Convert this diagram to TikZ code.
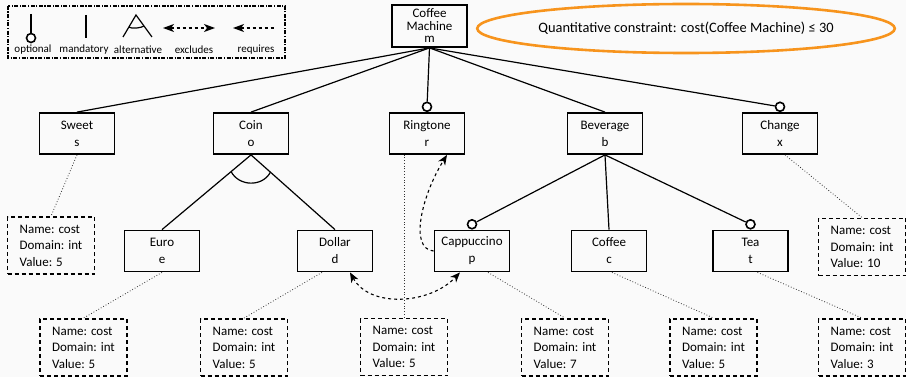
\documentclass[tikz,border=0pt]{standalone}
\usepackage{fontspec}
\setmainfont{Carlito}
\usetikzlibrary{arrows.meta, shapes.geometric, calc}
\definecolor{bgpaper}{RGB}{250,250,250}
\definecolor{cstorange}{RGB}{247,148,29}
\tikzset{
  feature/.style={draw, line width=1.8pt, minimum width=75pt, minimum height=41pt,
    align=center, inner sep=2pt, font=\fontsize{13}{17}\selectfont},
  attrbox/.style={draw, line width=1.8pt, dash pattern=on 4pt off 3pt,
    minimum width=87pt, minimum height=57pt, align=left,
    font=\fontsize{13}{16.5}\selectfont},
  optcirc/.style={draw, circle, line width=1.6pt, fill=white, minimum size=9pt, inner sep=0pt},
  edge/.style={line width=1.2pt},
  attrlink/.style={dotted, line width=0.8pt, black!80},
  reqtip/.tip={Stealth[length=10pt,width=8pt,inset=3pt]},
  legtip/.tip={Stealth[length=11pt,width=8pt,inset=3pt]},
  requires/.style={dashed, line width=1.1pt, -reqtip},
  excludes/.style={dashed, line width=1.1pt, reqtip-reqtip},
  legtext/.style={font=\fontsize{11}{12}\selectfont, inner sep=0pt},
}
\begin{document}
\begin{tikzpicture}[x=1pt, y=-1pt]
    \fill[bgpaper] (0,0) rectangle (906,377);
    \useasboundingbox (0,0) rectangle (906,377);

    % legend
    \draw[line width=1.5pt, dash pattern=on 4pt off 1.5pt on 1.2pt off 1.5pt] (8,6) rectangle (285,58);
    \coordinate (optTop) at (31,14);
    \node[optcirc] (optSym) at (31,38) {};
    \draw[edge] (optTop) -- (optSym);
    \coordinate (manTop) at (86,15);
    \coordinate (manBot) at (86,38);
    \draw[edge] (manTop) -- (manBot);
    \coordinate (altApex) at (136,15);
    \coordinate (altL) at (123,37);
    \coordinate (altR) at (152,37);
    \draw[edge] (altL) -- (altApex) -- (altR);
    \coordinate (altA) at ($(altApex)!0.55!(altL)$);
    \coordinate (altB) at ($(altApex)!0.5!(altR)$);
    \draw[edge] (altA) .. controls +(3,2) and +(-3,2) .. (altB);
    \coordinate (exclL) at (163,28);
    \coordinate (exclR) at (215,28);
    \draw[dashed, line width=1.1pt, legtip-legtip] (exclL) -- (exclR);
    \coordinate (reqL) at (233,28);
    \coordinate (reqR) at (275,28);
    \draw[dashed, line width=1.1pt, legtip-] (reqL) -- (reqR);
    \node[legtext] (optLbl) at (33,50) {optional};
    \node[legtext] (manLbl) at (84,50) {mandatory};
    \node[legtext] (altLbl) at (138,50) {alternative};
    \node[legtext] (exclLbl) at (194,50) {excludes};
    \node[legtext] (reqLbl) at (256,50) {requires};

    % constraint
    \node[ellipse, draw=cstorange, line width=2.6pt, minimum width=322pt, minimum height=49pt,
      inner sep=0pt, font=\fontsize{14.4}{16}\selectfont] (constraint) at (686,28.5)
      {Quantitative constraint: cost(Coffee Machine) ≤ 30};

    % features
    \node[feature, minimum height=42pt, font=\fontsize{13}{12.5}\selectfont] (machine) at (429.5,26) {Coffee\\Machine\\m};
    \node[feature] (sweet) at (77,133.5) {Sweet\\s};
    \node[feature] (coin) at (251,133.5) {Coin\\o};
    \node[feature] (ringtone) at (427,133.5) {Ringtone\\r};
    \node[feature] (beverage) at (605,133.5) {Beverage\\b};
    \node[feature] (change) at (780,133.5) {Change\\x};
    \node[feature] (euro) at (162,251) {Euro\\e};
    \node[feature] (dollar) at (335,251) {Dollar\\d};
    \node[feature] (capp) at (472,251) {Cappuccino\\p};
    \node[feature] (coffee) at (609,251) {Coffee\\c};
    \node[feature] (tea) at (750.5,251) {Tea\\t};

    \node[optcirc, anchor=south] (ringOpt) at (ringtone.north) {};
    \node[optcirc, anchor=south] (changeOpt) at (change.north) {};
    \node[optcirc, anchor=south] (cappOpt) at (capp.north) {};
    \node[optcirc, anchor=south] (teaOpt) at (tea.north) {};

    \draw[edge] (machine.south) -- (sweet.north);
    \draw[edge] (machine.south) -- (coin.north);
    \draw[edge] (machine.south) -- (ringOpt);
    \draw[edge] (machine.south) -- (beverage.north);
    \draw[edge] (machine.south) -- (changeOpt);
    \draw[edge] (coin.south) -- (euro.north);
    \draw[edge] (coin.south) -- (dollar.north);
    \coordinate (coinAltL) at ($(coin.south)!26pt!(euro.north)$);
    \coordinate (coinAltR) at ($(coin.south)!26pt!(dollar.north)$);
    \draw[edge] (coinAltL) .. controls +(8,15) and +(-8,15) .. (coinAltR);
    \draw[edge] (beverage.south) -- (cappOpt);
    \draw[edge] (beverage.south) -- (coffee.north);
    \draw[edge] (beverage.south) -- (teaOpt);

    % attributes
    \node[attrbox] (sweetAttr) at (51,245.5) {Name: cost\\Domain: int\\Value: 5};
    \node[attrbox] (changeAttr) at (862,247) {Name: cost\\Domain: int\\Value: 10};
    \node[attrbox] (euroAttr) at (83.5,347.5) {Name: cost\\Domain: int\\Value: 5};
    \node[attrbox] (dollarAttr) at (244,347.5) {Name: cost\\Domain: int\\Value: 5};
    \node[attrbox] (ringAttr) at (404,347) {Name: cost\\Domain: int\\Value: 5};
    \node[attrbox] (cappAttr) at (565,347.5) {Name: cost\\Domain: int\\Value: 7};
    \node[attrbox] (coffeeAttr) at (713.5,347.5) {Name: cost\\Domain: int\\Value: 5};
    \node[attrbox] (teaAttr) at (862,347.5) {Name: cost\\Domain: int\\Value: 3};

    \draw[attrlink] (sweet.south) -- (sweetAttr.north);
    \draw[attrlink] ([xshift=5pt]change.south) -- (changeAttr.north);
    \draw[attrlink] (euro.south) -- (euroAttr.north);
    \draw[attrlink] ([xshift=-13pt]dollar.south) -- (dollarAttr.north);
    \draw[attrlink] (ringAttr.north) -- (ringAttr.north |- ringtone.south);
    \draw[attrlink] ([xshift=16pt]capp.south) -- (cappAttr.north);
    \draw[attrlink] ([xshift=3pt]coffee.south) -- (coffeeAttr.north);
    \draw[attrlink] ([xshift=7pt]tea.south) -- (teaAttr.north);

    % cross-tree constraints
    \draw[requires] (capp.west) .. controls +(-25,-2) and +(-25,40) .. ([xshift=20pt]ringtone.south);
    \draw[excludes] ([xshift=15pt]dollar.south) .. controls +(20,36) and +(-30,32) .. ([xshift=-12pt]capp.south);
\end{tikzpicture}
\end{document}
